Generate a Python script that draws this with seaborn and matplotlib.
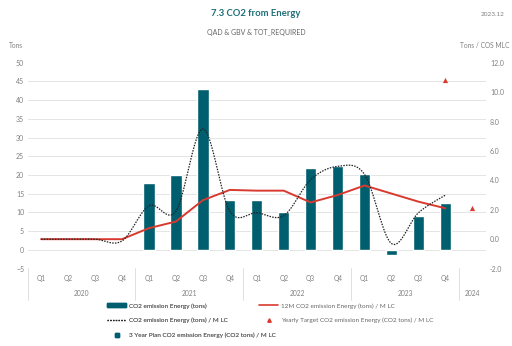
import numpy as np
import pandas as pd
import matplotlib
matplotlib.use("Agg")
import matplotlib.pyplot as plt
import matplotlib.transforms as mtransforms
from matplotlib.lines import Line2D
from matplotlib.patches import Patch
import seaborn as sns

# ---------------- data ----------------
years = ["2020", "2021", "2022", "2023", "2024"]
quarters = ["Q1", "Q2", "Q3", "Q4", "Q1", "Q2", "Q3", "Q4", "Q1", "Q2", "Q3", "Q4",
            "Q1", "Q2", "Q3", "Q4", ""]
slot_year = ["2020"] * 4 + ["2021"] * 4 + ["2022"] * 4 + ["2023"] * 4 + ["2024"]

co2_tons = [np.nan, np.nan, np.nan, np.nan,
            17.8, 20.1, 43.0, 13.3,
            13.3, 10.0, 22.0, 22.4,
            20.3, -1.4, 9.1, 12.4,
            np.nan]
co2_12m = [0.0, 0.0, 0.0, 0.0,
           0.75, 1.2, 2.65, 3.35,
           3.3, 3.3, 2.5, 3.0,
           3.65, 3.1, 2.55, 2.1,
           np.nan]
co2_per_mlc = [0.0, 0.0, 0.0, -0.12,
               2.27, 1.9, 7.5, 1.9,
               1.8, 1.6, 4.05, 4.95,
               4.4, -0.3, 1.8, 3.0,
               np.nan]
yearly_target = [np.nan] * 15 + [10.8, 2.1]

TEAL = "#005F6E"
RED = "#D93A2F"
GRAY = "#808080"

slots = [f"{y} {q}" if q else y for y, q in zip(slot_year, quarters)]
n = len(slots)
xs = np.arange(n)
df = pd.DataFrame({"slot": slots, "x": xs, "tons": co2_tons, "m12": co2_12m,
                   "mlc": co2_per_mlc, "target": yearly_target})


def smooth(x, y, steps=20):
    # Excel-like smoothed line rendering (Catmull-Rom through the points)
    x = np.asarray(x, float); y = np.asarray(y, float)
    px, py = [], []
    for i in range(len(x) - 1):
        x0, y0 = (x[i - 1], y[i - 1]) if i > 0 else (x[i], y[i])
        x1, y1 = x[i], y[i]
        x2, y2 = x[i + 1], y[i + 1]
        x3, y3 = (x[i + 2], y[i + 2]) if i + 2 < len(x) else (x[i + 1], y[i + 1])
        c1x, c1y = x1 + (x2 - x0) / 6, y1 + (y2 - y0) / 6
        c2x, c2y = x2 - (x3 - x1) / 6, y2 - (y3 - y1) / 6
        t = np.linspace(0, 1, steps, endpoint=(i == len(x) - 2))
        b0 = (1 - t) ** 3; b1 = 3 * (1 - t) ** 2 * t; b2 = 3 * (1 - t) * t ** 2; b3 = t ** 3
        px.extend(b0 * x1 + b1 * c1x + b2 * c2x + b3 * x2)
        py.extend(b0 * y1 + b1 * c1y + b2 * c2y + b3 * y2)
    return np.array(px), np.array(py)


sns.set_theme(style="white")
plt.rcParams["font.family"] = ["Lato", "DejaVu Sans"]

fig = plt.figure(figsize=(5.12, 3.46), dpi=100)
ax = fig.add_axes([0.054, 0.2237, 0.895, 0.5951])

# bars (left axis)
sns.barplot(data=df, x="x", y="tons", order=list(xs), color=TEAL, width=0.42,
            saturation=1, ax=ax, native_scale=True, zorder=2)
ax.set_xlim(-0.5, n - 0.5)
ax.set_ylim(-5, 50)
ax.set_yticks(np.arange(-5, 51, 5))
for v in range(0, 50, 5):
    ax.axhline(v, color="#E4E4E4", lw=0.7, zorder=0)

ax2 = ax.twinx()
ax2.set_ylim(-2, 12)
ax2.set_yticks(np.arange(-2, 12.1, 2))
ax2.set_yticklabels([f"{v:.1f}" for v in np.arange(-2, 12.1, 2)])

sns.lineplot(data=df, x="x", y="m12", color=RED, lw=1.4, ax=ax2, zorder=4)
valid = df.dropna(subset=["mlc"])
sx, sy = smooth(valid["x"], valid["mlc"])
ax2.plot(sx, sy, color="#222222", lw=0.9, ls=(0, (1.2, 1.0)), zorder=5)
sns.scatterplot(data=df, x="x", y="target", marker="^", color=RED, s=14,
                edgecolor=RED, linewidth=0, ax=ax2, zorder=6)

for a in (ax, ax2):
    for s in a.spines.values():
        s.set_visible(False)
    a.set_xlabel("")
    a.set_ylabel("")
    a.tick_params(axis="both", length=0, labelsize=5, labelcolor=GRAY)
ax.set_xticks([])
ax2.set_xticks([])
ax.tick_params(axis="y", pad=2.5)
ax2.tick_params(axis="y", pad=3)

# category axis labels
tr = mtransforms.blended_transform_factory(ax.transData, fig.transFigure)
for i, q in enumerate(quarters):
    ax.text(i, 1 - 279 / 346, q, transform=tr, ha="center", va="center",
            fontsize=4.8, color=GRAY)
for yname, cx in zip(years, [1.5, 5.5, 9.5, 13.5, 16]):
    ax.text(cx, 1 - 293 / 346, yname, transform=tr, ha="center", va="center",
            fontsize=4.8, color=GRAY)
for sx_ in [-0.5, 3.5, 7.5, 11.5, 15.5]:
    ax.add_line(Line2D([sx_, sx_], [1 - 268 / 346, 1 - 300 / 346], transform=tr,
                       color="#DADADA", lw=0.6, clip_on=False))

# titles
fig.text(0.5, 1 - 14 / 346, "7.3 CO2 from Energy", ha="center", va="center",
         fontsize=6.8, fontweight="bold", color="#1E6F78")
fig.text(0.5, 1 - 33 / 346, "QAD & GBV & TOT_REQUIRED", ha="center", va="center",
         fontsize=5, color="#666666")
fig.text(0.985, 1 - 14 / 346, "2023.12", ha="right", va="center", fontsize=4.6, color=GRAY)
fig.text(0.018, 1 - 46 / 346, "Tons", ha="left", va="center", fontsize=4.8, color=GRAY)
fig.text(0.995, 1 - 46 / 346, "Tons / COS MLC", ha="right", va="center", fontsize=4.8, color=GRAY)

# legend (two columns placed separately)
h1 = [
    Patch(facecolor=TEAL, edgecolor=TEAL),
    Line2D([], [], color="#222222", lw=0.9, ls=(0, (1.2, 1.0))),
    Line2D([], [], color=TEAL, marker="s", ls="none", markersize=2.5),
]
l1 = [
    "CO2 emission Energy (tons)",
    "CO2 emission Energy (tons) / M LC",
    "3 Year Plan CO2 emission Energy (CO2 tons) / M LC",
]
h2 = [
    Line2D([], [], color=RED, lw=1.2),
    Line2D([], [], color=RED, marker="^", ls="none", markersize=2.5),
]
l2 = [
    "12M CO2 emission Energy (tons) / M LC",
    "Yearly Target CO2 emission Energy (CO2 tons) / M LC",
]
kw = dict(loc="upper left", frameon=False, fontsize=4.6, labelcolor="#666666",
          handlelength=3.0, handleheight=0.6, labelspacing=1.45,
          handletextpad=0.5, borderpad=0, borderaxespad=0)
leg1 = fig.legend(h1, l1, bbox_to_anchor=(107 / 512, 1 - 303 / 346), **kw)
fig.add_artist(leg1)
leg2 = fig.legend(h2, l2, bbox_to_anchor=(259 / 512, 1 - 303 / 346), **kw)

fig.savefig("out.png", dpi=100)
